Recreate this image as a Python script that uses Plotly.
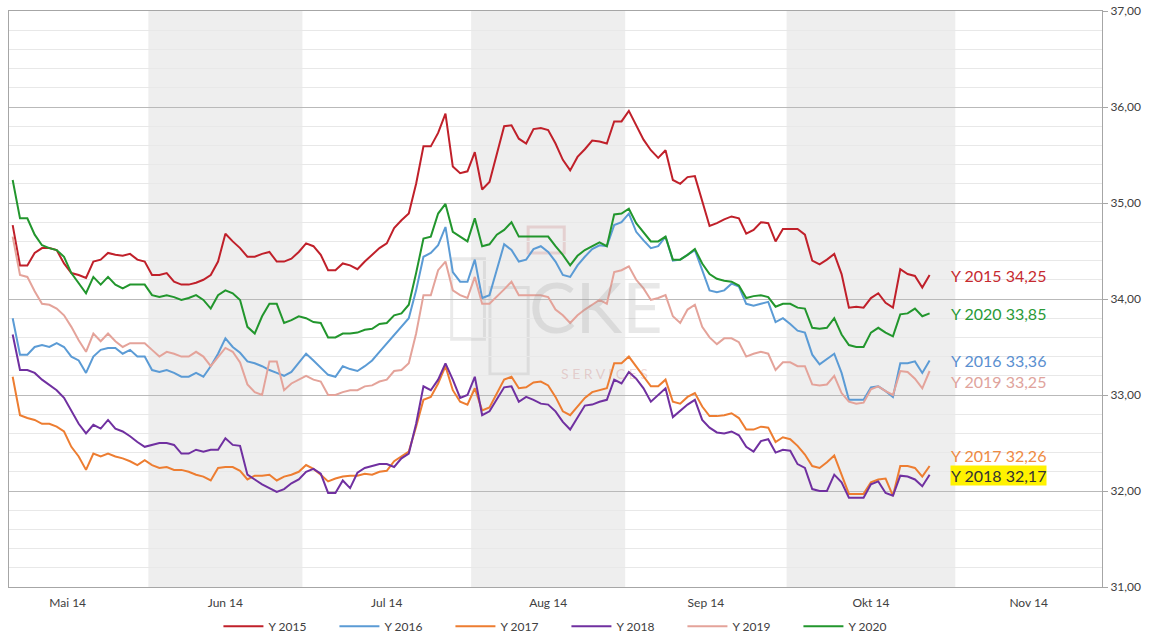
import numpy as np
import pandas as pd
import plotly.graph_objects as go

# ---------------- data ----------------
first_day = "2014-05-06"
last_day = "2014-10-28"
calendar_start = "2014-05-01"
calendar_end = "2014-11-28"

month_labels = ["Mai 14", "Jun 14", "Jul 14", "Aug 14", "Sep 14", "Okt 14", "Nov 14"]
shaded_months = ["Jun 14", "Aug 14", "Okt 14"]

series_names = ["Y 2015", "Y 2016", "Y 2017", "Y 2018", "Y 2019", "Y 2020"]

y2015 = [34.77, 34.35, 34.35, 34.48, 34.53, 34.53, 34.51, 34.37, 34.27, 34.25,
         34.22, 34.39, 34.41, 34.48, 34.46, 34.45, 34.47, 34.41, 34.39, 34.25,
         34.25, 34.27, 34.18, 34.15, 34.15, 34.17, 34.20, 34.25, 34.39, 34.68,
         34.60, 34.53, 34.44,
         34.44, 34.47, 34.49, 34.39, 34.39, 34.42, 34.49, 34.58, 34.55, 34.46,
         34.30, 34.30, 34.37, 34.35, 34.31, 34.39, 34.46, 34.53, 34.58, 34.74,
         34.82, 34.89, 35.20, 35.59, 35.59, 35.73, 35.93, 35.38, 35.31, 35.33,
         35.53, 35.14, 35.22, 35.50, 35.80, 35.81, 35.67, 35.62, 35.77, 35.78,
         35.76, 35.62, 35.45, 35.34, 35.48, 35.56, 35.65, 35.64, 35.62, 35.85,
         35.85, 35.96, 35.81, 35.66, 35.55, 35.47, 35.55, 35.24, 35.20, 35.27,
         35.28, 35.03,
         34.76, 34.79, 34.83, 34.86, 34.84, 34.68, 34.72, 34.80, 34.79, 34.60,
         34.73, 34.73, 34.73, 34.67, 34.40, 34.36, 34.41, 34.47, 34.26, 33.91,
         33.92, 33.91, 34.01, 34.06, 33.96, 33.91, 34.31, 34.26, 34.24, 34.12,
         34.25]

y2016 = [33.80, 33.42, 33.42, 33.50, 33.52, 33.50, 33.54, 33.50, 33.40, 33.36,
         33.23, 33.40, 33.47, 33.49, 33.49, 33.43, 33.47, 33.40, 33.40, 33.26,
         33.24, 33.26, 33.23, 33.19, 33.19, 33.23, 33.19, 33.30, 33.43, 33.59,
         33.50, 33.44, 33.35,
         33.33, 33.30, 33.26, 33.23, 33.20, 33.24, 33.33, 33.43, 33.36, 33.28,
         33.21, 33.19, 33.30, 33.27, 33.25, 33.30, 33.36, 33.45, 33.54, 33.63,
         33.71, 33.80, 34.09, 34.44, 34.48, 34.56, 34.75, 34.28, 34.18, 34.18,
         34.41, 34.01, 34.04, 34.32, 34.57, 34.51, 34.39, 34.41, 34.52, 34.55,
         34.49, 34.39, 34.25, 34.23, 34.35, 34.44, 34.52, 34.56, 34.55, 34.77,
         34.80, 34.89, 34.70, 34.61, 34.53, 34.55, 34.65, 34.40, 34.41, 34.46,
         34.51, 34.30,
         34.09, 34.07, 34.09, 34.16, 34.13, 33.95, 33.93, 33.95, 33.97, 33.76,
         33.80, 33.74, 33.67, 33.65, 33.42, 33.32, 33.38, 33.43, 33.23, 32.95,
         32.95, 32.95, 33.08, 33.09, 33.04, 32.98, 33.33, 33.33, 33.35, 33.23,
         33.36]

y2017 = [33.19, 32.79, 32.76, 32.74, 32.70, 32.70, 32.67, 32.62, 32.46, 32.36,
         32.22, 32.39, 32.36, 32.39, 32.36, 32.34, 32.31, 32.27, 32.32, 32.27,
         32.24, 32.25, 32.22, 32.22, 32.20, 32.17, 32.15, 32.11, 32.24, 32.25,
         32.25, 32.21, 32.12,
         32.16, 32.16, 32.17, 32.11, 32.15, 32.17, 32.20, 32.27, 32.23, 32.17,
         32.10, 32.13, 32.15, 32.16, 32.16, 32.18, 32.17, 32.20, 32.21, 32.31,
         32.36, 32.41, 32.67, 32.95, 32.98, 33.12, 33.30, 33.05, 32.93, 32.90,
         33.07, 32.84, 32.87, 33.01, 33.16, 33.19, 33.07, 33.08, 33.13, 33.14,
         33.10, 32.98, 32.83, 32.79, 32.88, 32.97, 33.03, 33.05, 33.07, 33.33,
         33.33, 33.40, 33.30, 33.19, 33.09, 33.09, 33.16, 32.93, 32.91, 32.98,
         33.02, 32.88,
         32.78, 32.78, 32.79, 32.81, 32.76, 32.64, 32.64, 32.67, 32.66, 32.51,
         32.56, 32.54, 32.47, 32.38, 32.26, 32.24, 32.30, 32.37, 32.16, 31.97,
         31.97, 31.97, 32.09, 32.12, 32.13, 31.95, 32.26, 32.26, 32.24, 32.15,
         32.26]

y2018 = [33.63, 33.26, 33.26, 33.23, 33.16, 33.10, 33.05, 32.97, 32.84, 32.70,
         32.60, 32.69, 32.65, 32.74, 32.65, 32.62, 32.57, 32.51, 32.46, 32.48,
         32.50, 32.50, 32.48, 32.39, 32.39, 32.43, 32.41, 32.43, 32.43, 32.55,
         32.48, 32.47, 32.17,
         32.12, 32.07, 32.03, 31.99, 32.02, 32.08, 32.12, 32.20, 32.23, 32.18,
         31.98, 31.98, 32.11, 32.03, 32.19, 32.24, 32.26, 32.28, 32.28, 32.25,
         32.34, 32.39, 32.70, 33.09, 33.05, 33.16, 33.33, 33.16, 32.97, 33.00,
         33.19, 32.79, 32.83, 32.95, 33.08, 33.09, 32.93, 32.98, 32.95, 32.91,
         32.90, 32.83, 32.72, 32.64, 32.77, 32.89, 32.90, 32.93, 32.95, 33.16,
         33.12, 33.24, 33.17, 33.07, 32.93, 33.00, 33.07, 32.77, 32.83, 32.90,
         32.95, 32.74,
         32.66, 32.61, 32.60, 32.62, 32.58, 32.46, 32.41, 32.52, 32.54, 32.40,
         32.43, 32.42, 32.28, 32.24, 32.02, 32.00, 32.00, 32.17, 32.09, 31.93,
         31.93, 31.93, 32.07, 32.10, 31.98, 31.95, 32.16, 32.15, 32.12, 32.05,
         32.17]

y2019 = [34.65, 34.25, 34.23, 34.08, 33.95, 33.94, 33.90, 33.83, 33.71, 33.57,
         33.45, 33.64, 33.56, 33.64, 33.56, 33.50, 33.54, 33.54, 33.54, 33.47,
         33.40, 33.45, 33.43, 33.40, 33.40, 33.45, 33.40, 33.30, 33.40, 33.49,
         33.45, 33.34, 33.11,
         33.03, 33.00, 33.35, 33.35, 33.05, 33.12, 33.16, 33.20, 33.16, 33.14,
         33.00, 33.00, 33.03, 33.05, 33.05, 33.09, 33.10, 33.14, 33.16, 33.25,
         33.26, 33.33, 33.64, 34.04, 34.04, 34.30, 34.39, 34.09, 34.04, 34.01,
         34.23, 33.95, 33.95, 34.02, 34.10, 34.18, 34.04, 34.04, 34.04, 34.04,
         34.02, 33.89, 33.83, 33.75, 33.83, 33.89, 33.94, 33.99, 33.95, 34.28,
         34.30, 34.34, 34.20, 34.11, 33.99, 34.01, 34.04, 33.82, 33.75, 33.89,
         33.94, 33.71,
         33.60, 33.53, 33.59, 33.59, 33.55, 33.40, 33.43, 33.45, 33.43, 33.26,
         33.34, 33.34, 33.30, 33.30, 33.11, 33.10, 33.11, 33.20, 33.02, 32.93,
         32.91, 32.92, 33.06, 33.09, 33.04, 33.00, 33.25, 33.24, 33.17, 33.07,
         33.25]

y2020 = [35.24, 34.84, 34.84, 34.67, 34.56, 34.53, 34.51, 34.44, 34.27, 34.16,
         34.06, 34.23, 34.15, 34.23, 34.15, 34.11, 34.15, 34.15, 34.15, 34.04,
         34.02, 34.04, 34.02, 33.99, 34.01, 34.04, 33.99, 33.90, 34.04, 34.09,
         34.06, 33.99, 33.71,
         33.64, 33.82, 33.95, 33.95, 33.75, 33.78, 33.82, 33.80, 33.76, 33.75,
         33.60, 33.60, 33.64, 33.64, 33.65, 33.68, 33.69, 33.74, 33.75, 33.83,
         33.85, 33.94, 34.27, 34.63, 34.65, 34.89, 34.99, 34.70, 34.65, 34.60,
         34.84, 34.55, 34.57, 34.67, 34.72, 34.80, 34.65, 34.65, 34.65, 34.65,
         34.65, 34.55, 34.46, 34.35, 34.45, 34.51, 34.55, 34.59, 34.55, 34.88,
         34.89, 34.94, 34.79, 34.70, 34.60, 34.60, 34.65, 34.41, 34.41, 34.46,
         34.52, 34.37,
         34.26, 34.21, 34.19, 34.18, 34.14, 34.01, 34.03, 34.04, 34.02, 33.92,
         33.95, 33.95, 33.91, 33.90, 33.70, 33.69, 33.70, 33.80, 33.63, 33.52,
         33.50, 33.50, 33.65, 33.70, 33.65, 33.61, 33.84, 33.85, 33.90, 33.82,
         33.85]

series_values = [y2015, y2016, y2017, y2018, y2019, y2020]

# ---------------- styles ----------------
line_colors = ["#c0202a", "#5b9bd5", "#ed7d31", "#7030a0", "#e4a39a", "#22962d"]
label_colors = ["#c62a2f", "#5a8fd0", "#ee8a43", "#333333", "#e0a39c", "#2a9a38"]
label_shift = [0, 0, 11, -1, -10, 0]
label_bg = [None, None, None, "#fff200", None, None]
FONT = "Lato, 'Open Sans', Arial, sans-serif"

# ---------------- trading-day positions ----------------
cal = pd.bdate_range(calendar_start, calendar_end)
offset = cal.get_loc(pd.Timestamp(first_day))
cal_idx = np.arange(len(cal)) - offset
trade_days = pd.bdate_range(first_day, last_day)
x_vals = np.arange(len(trade_days))

months = list(dict.fromkeys(zip(cal.year, cal.month)))
month_info = []
for (yr, mo), lab in zip(months, month_labels):
    sel = cal_idx[(cal.year == yr) & (cal.month == mo)]
    month_info.append((lab, sel.min(), sel.max()))

x_lo = -0.5
x_hi = cal_idx.max() + 0.5

fig = go.Figure()

for name, vals, col in zip(series_names, series_values, line_colors):
    fig.add_trace(go.Scatter(
        x=x_vals[:len(vals)], y=vals, mode="lines", name=name,
        line=dict(color=col, width=2),
        hovertemplate=name + ": %{y:.2f}<extra></extra>"))

# shaded month bands
for lab, lo, hi in month_info:
    if lab in shaded_months:
        fig.add_shape(type="rect", xref="x", yref="paper",
                      x0=max(lo - 0.5, x_lo), x1=min(hi + 0.5, x_hi), y0=0, y1=1,
                      fillcolor="#eeeeee", line=dict(width=0), layer="below")

# end-of-line labels
for name, vals, col, sh, bg in zip(series_names, series_values, label_colors,
                                   label_shift, label_bg):
    txt = f"{name} {vals[-1]:.2f}".replace(".", ",")
    ann = dict(x=x_vals[len(vals) - 1], y=vals[-1], xref="x", yref="y",
               text=txt, showarrow=False, xanchor="left", yanchor="middle",
               xshift=20, yshift=sh, font=dict(family=FONT, size=16, color=col),
               borderpad=0)
    if bg:
        ann["bgcolor"] = bg
    fig.add_annotation(**ann)

# watermark
fig.add_annotation(x=0.537, y=0.487, xref="paper", yref="paper", text="CKE",
                   showarrow=False, font=dict(family=FONT, size=70,
                                              color="rgba(150,150,150,0.22)"))
fig.add_annotation(x=0.545, y=0.37, xref="paper", yref="paper",
                   text="S E R V I C E S", showarrow=False,
                   font=dict(family=FONT, size=14, color="rgba(200,120,120,0.30)"))
for (a, b, c, d, colr) in [(0.405, 0.435, 0.43, 0.57, "rgba(150,150,150,0.20)"),
                           (0.44, 0.475, 0.37, 0.52, "rgba(150,150,150,0.20)"),
                           (0.475, 0.508, 0.58, 0.625, "rgba(200,120,120,0.25)")]:
    fig.add_shape(type="rect", xref="paper", yref="paper", x0=a, x1=b, y0=c, y1=d,
                  line=dict(color=colr, width=3), fillcolor="rgba(0,0,0,0)",
                  layer="below")

tick_pos = [(lo + hi) / 2 for _, lo, hi in month_info]
tick_txt = [lab for lab, _, _ in month_info]

fig.update_layout(
    width=1158, height=634,
    margin=dict(l=9, r=56, t=11, b=47, autoexpand=False),
    paper_bgcolor="white", plot_bgcolor="white",
    separators=",.",
    showlegend=True,
    legend=dict(orientation="h", x=0.51, xanchor="center", y=-0.068,
                yanchor="middle", font=dict(family=FONT, size=12, color="#404040"),
                entrywidth=61, entrywidthmode="pixels", itemwidth=40,
                bgcolor="rgba(0,0,0,0)"),
    xaxis=dict(range=[x_lo, x_hi], tickvals=tick_pos, ticktext=tick_txt,
               showgrid=False, zeroline=False, showline=True, mirror=True,
               linecolor="#a6a6a6", linewidth=1, ticks="", ticklabelstandoff=5,
               automargin=False,
               tickfont=dict(family=FONT, size=12, color="#404040")),
    yaxis=dict(range=[31, 37], dtick=1, side="right", tickformat=".2f",
               showgrid=True, gridcolor="#b9b9b9", gridwidth=1, zeroline=False,
               showline=True, mirror=True, linecolor="#a6a6a6", linewidth=1,
               ticks="outside", ticklen=5, tickcolor="#a6a6a6", automargin=False,
               tickfont=dict(family=FONT, size=12, color="#404040"),
               minor=dict(dtick=0.2, showgrid=True, gridcolor="#e8e8e8",
                          gridwidth=1)),
)

fig.write_html("out.html")
